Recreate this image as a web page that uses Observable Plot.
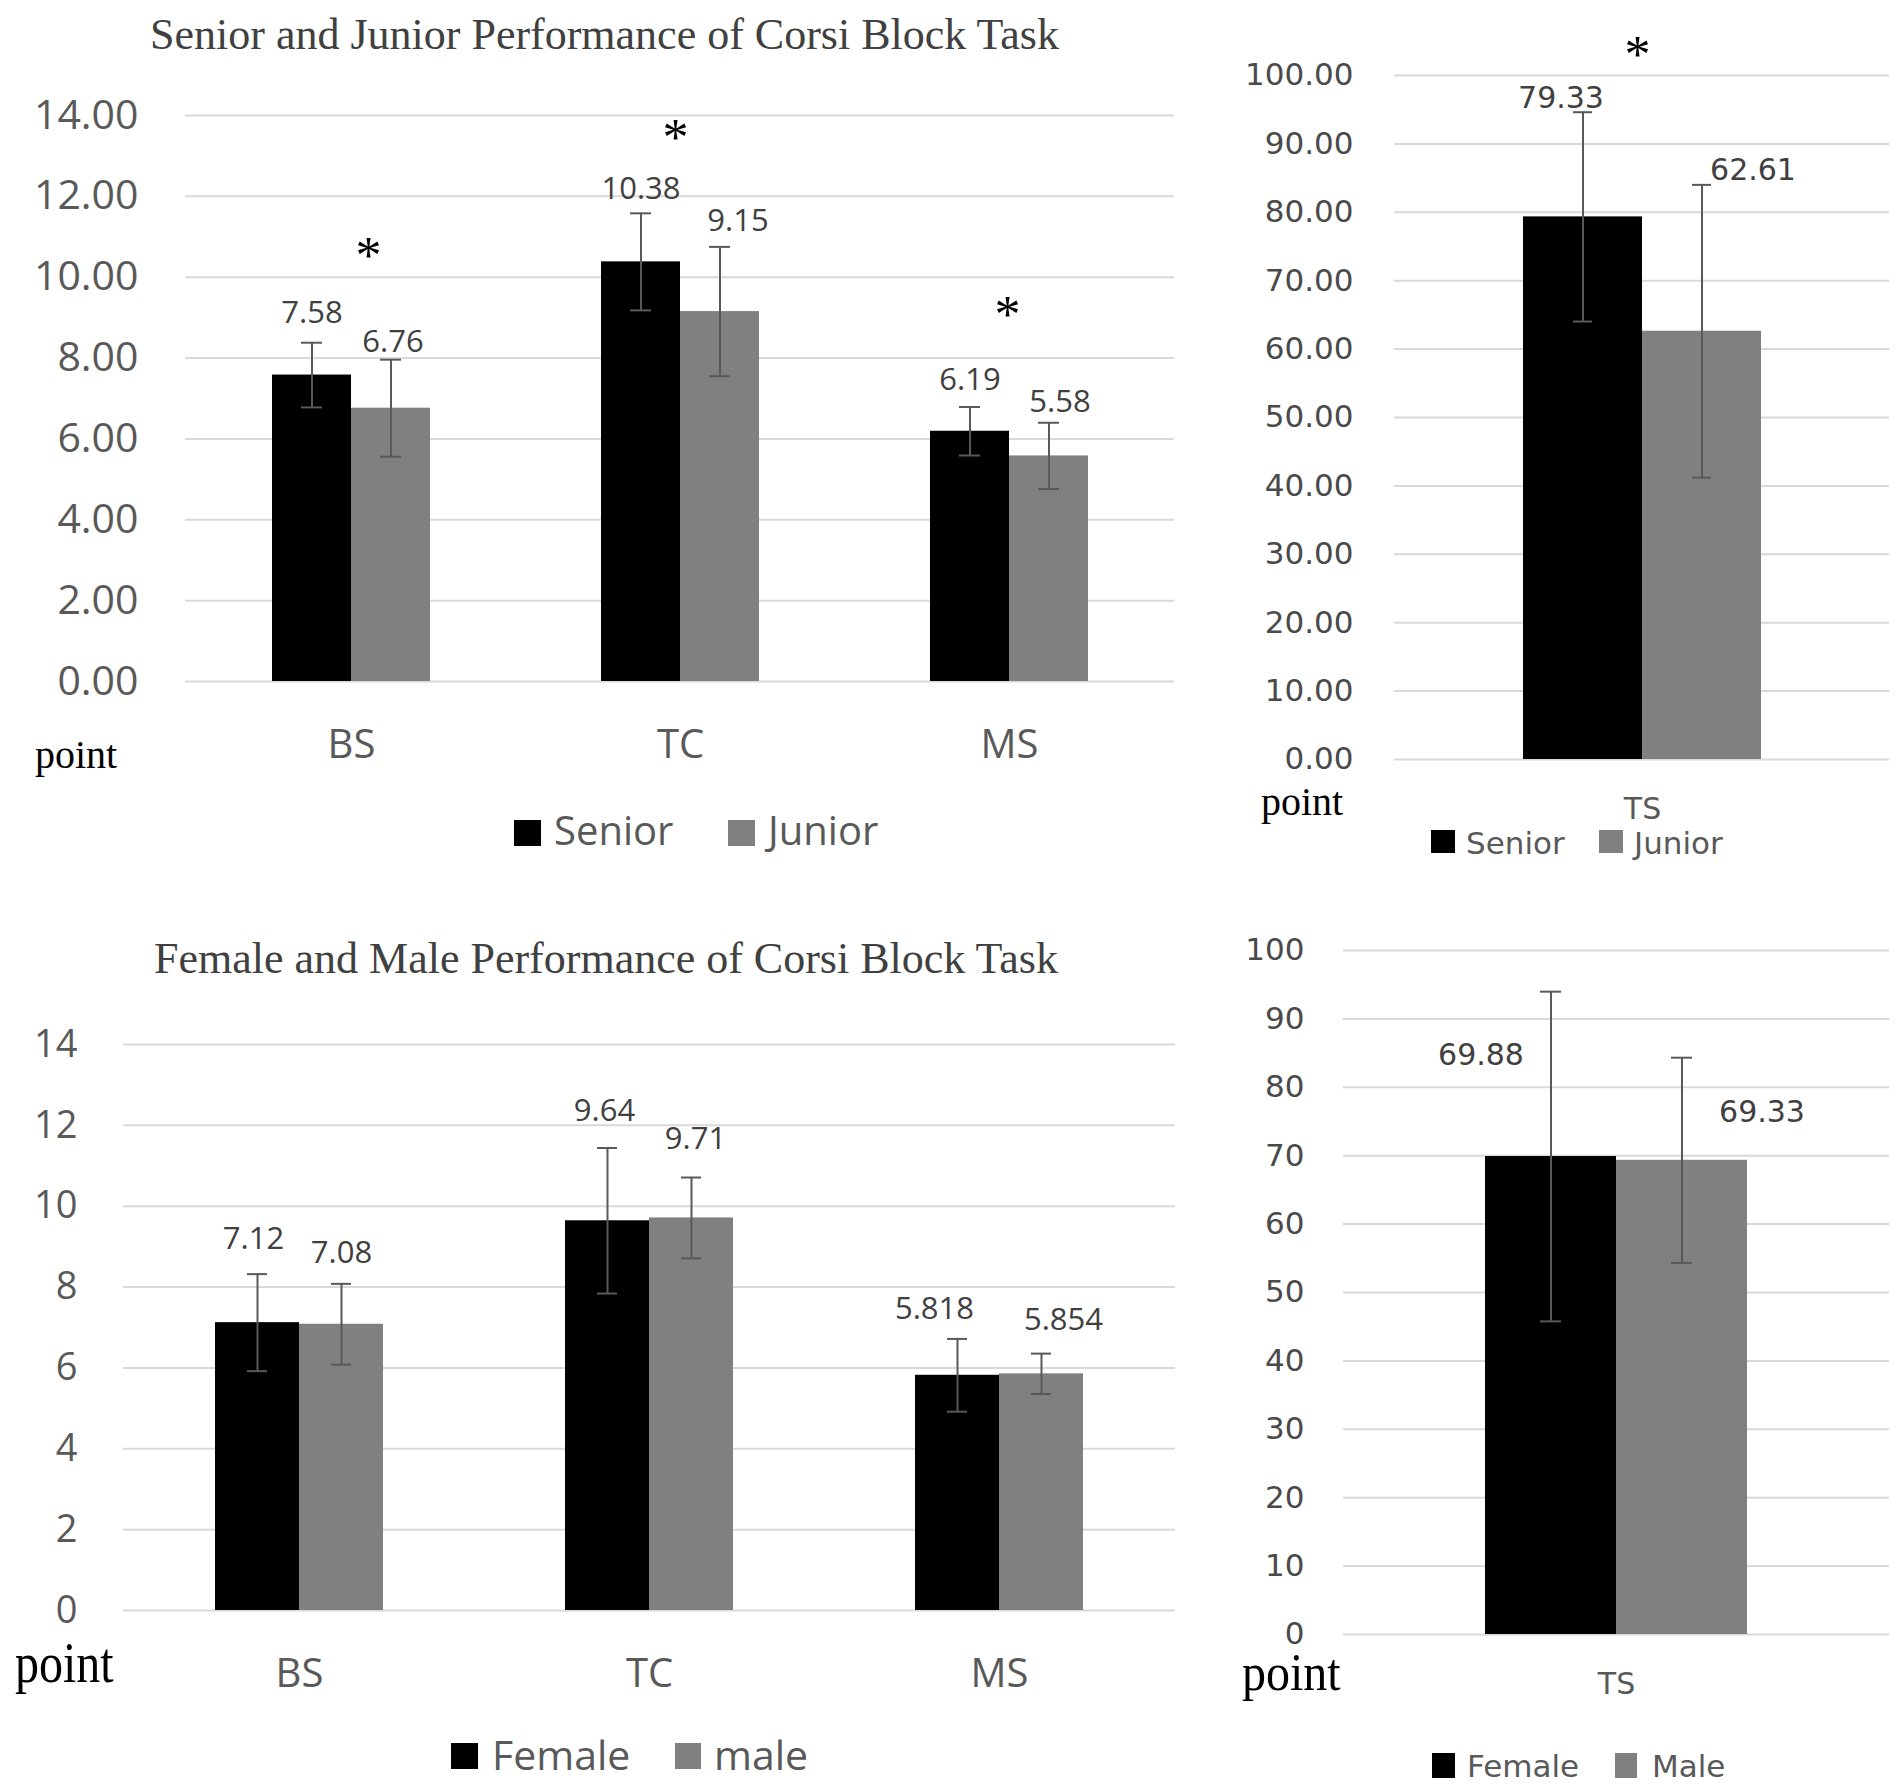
<!DOCTYPE html>
<html>
<head>
<meta charset="utf-8">
<script src="https://cdn.jsdelivr.net/npm/d3@7"></script>
<script src="https://cdn.jsdelivr.net/npm/@observablehq/plot@0.6"></script>
<style>
  html, body { margin: 0; padding: 0; background: #ffffff; }
  #page { position: relative; width: 1902px; height: 1792px; overflow: hidden; background: #ffffff; }
  .abs { position: absolute; white-space: nowrap; line-height: 1; margin: 0; }
  .panel { position: absolute; }
  .panel svg { overflow: visible; position: absolute; left: 0; top: 0; }
</style>
</head>
<body>
<div id="page"></div>
<script>
// ---------------- DATA ----------------
const subtasks = ["BS", "TC", "MS"];
const totalTask = ["TS"];

const ageSeries = ["Senior", "Junior"];
const sexSeriesLeft = ["Female", "male"];
const sexSeriesRight = ["Female", "Male"];

// Senior / Junior, sub-scores (BS, TC, MS)
const seniorMeans = [7.58, 10.38, 6.19];
const seniorSD    = [0.8, 1.2, 0.6];
const juniorMeans = [6.76, 9.15, 5.58];
const juniorSD    = [1.2, 1.6, 0.82];

// Senior / Junior, total score (TS)
const seniorTS   = [79.33];
const seniorTSsd = [15.3];
const juniorTS   = [62.61];
const juniorTSsd = [21.4];

// Female / Male, sub-scores (BS, TC, MS)
const femaleMeans = [7.12, 9.64, 5.818];
const femaleSD    = [1.2, 1.8, 0.9];
const maleMeans   = [7.08, 9.71, 5.854];
const maleSD      = [1.0, 1.0, 0.5];

// Female / Male, total score (TS)
const femaleTS   = [69.88];
const femaleTSsd = [24.1];
const maleTS     = [69.33];
const maleTSsd   = [15.0];

// significance markers (*)
const ageSignificant = ["BS", "TC", "MS"];
const ageTSSignificant = ["TS"];
const sexSignificant = [];

// y ticks
const ticksSub = [0, 2, 4, 6, 8, 10, 12, 14];
const ticksTotal = [0, 10, 20, 30, 40, 50, 60, 70, 80, 90, 100];

// ---------------- STYLES ----------------
const barColors = ["#000000", "#808080"];
const gridColor = "#d9d9d9";
const errColor = "#595959";
const axisText = "#595959";
const valueText = "#404040";

// label offsets [dx, dy] in pixels relative to top of error bar
const labelOffsets = {
  TL: {"BS|Senior": [0, -20], "BS|Junior": [2, -8], "TC|Senior": [0, -14], "TC|Junior": [18, -16], "MS|Senior": [0, -17], "MS|Junior": [11, -11]},
  TR: {"TS|Senior": [-22, -4], "TS|Junior": [51, -5]},
  BL: {"BS|Female": [-4, -25], "BS|male": [0, -21], "TC|Female": [-3, -27], "TC|male": [4, -29], "MS|Female": [-23, -20], "MS|male": [22, -24]},
  BR: {"TS|Female": [-70, 73], "TS|Male": [80, 64]}
};
const starOffsets = {
  TL: {BS: [17, -70], TC: [-5, -58], MS: [-2, -75]},
  TR: {TS: [-5, -40]},
  BL: {}, BR: {}
};

function buildRows(cats, series, meansList, sdList) {
  const rows = [];
  cats.forEach((c, i) => {
    series.forEach((s, j) => {
      const m = meansList[j][i], sd = sdList[j][i];
      rows.push({cat: c, series: s, mean: m, sd: sd, lo: m - sd, hi: m + sd, label: String(m)});
    });
  });
  return rows;
}

function makePanel(cfg) {
  const rows = buildRows(cfg.cats, cfg.series, cfg.means, cfg.sds);
  const sigRows = cfg.sig.map(c => ({cat: c, top: d3.max(rows.filter(r => r.cat === c), r => r.hi)}));
  const common = {
    width: cfg.width, height: cfg.height,
    marginLeft: cfg.mL, marginRight: cfg.mR, marginTop: cfg.mT, marginBottom: cfg.mB,
    style: {background: "transparent", fontFamily: cfg.font, overflow: "visible"}
  };
  // background: gridlines + y tick labels (not faceted, spans the whole plot width)
  const back = Plot.plot({
    ...common,
    y: {domain: cfg.domain, axis: null},
    marks: [
      Plot.ruleY(cfg.ticks, {y: d => d, stroke: gridColor, strokeWidth: 2}),
      Plot.text(cfg.ticks, {y: d => d, text: cfg.tickFormat, frameAnchor: "left", textAnchor: "end",
        dx: cfg.tickDx, fontSize: cfg.tickSize, fontFamily: cfg.font, fill: cfg.tickColor})
    ]
  });
  // foreground: grouped bars, error bars, labels (faceted by category)
  const marks = [
    Plot.barY(rows, {fx: "cat", x: "series", y: "mean", fill: "series"}),
    Plot.ruleX(rows, {fx: "cat", x: "series", y1: "lo", y2: "hi", stroke: errColor, strokeWidth: 2}),
    Plot.tickY(rows, {fx: "cat", x: "series", y: "hi", insetLeft: cfg.capInset, insetRight: cfg.capInset, stroke: errColor, strokeWidth: 2}),
    Plot.tickY(rows, {fx: "cat", x: "series", y: "lo", insetLeft: cfg.capInset, insetRight: cfg.capInset, stroke: errColor, strokeWidth: 2}),
    Plot.axisFx({anchor: "bottom", tickSize: 0, tickPadding: cfg.catPad, fontSize: cfg.catSize, fontFamily: cfg.font, fill: axisText, label: null})
  ];
  rows.forEach(r => {
    const off = cfg.labelOffsets[r.cat + "|" + r.series] || [0, -10];
    marks.push(Plot.text([r], {fx: "cat", x: "series", y: "hi", text: "label", dx: off[0], dy: off[1], lineAnchor: "bottom",
      fontSize: cfg.valueSize, fontFamily: cfg.font, fill: valueText}));
  });
  sigRows.forEach(r => {
    const off = cfg.starOffsets[r.cat] || [0, -60];
    marks.push(Plot.text([r], {fx: "cat", y: "top", text: () => "*", dx: off[0], dy: off[1], lineAnchor: "bottom",
      fontSize: 52, fontFamily: "Liberation Serif", fill: "#000000"}));
  });
  const front = Plot.plot({
    ...common,
    fx: {domain: cfg.cats, paddingInner: 0.52, paddingOuter: 0.26, label: null},
    x: {domain: cfg.series, padding: 0, axis: null},
    y: {domain: cfg.domain, axis: null},
    color: {domain: cfg.series, range: barColors},
    marks
  });
  const holder = document.createElement("div");
  holder.className = "panel";
  holder.style.left = cfg.left + "px";
  holder.style.top = cfg.top + "px";
  holder.style.width = cfg.width + "px";
  holder.style.height = cfg.height + "px";
  holder.appendChild(back);
  holder.appendChild(front);
  document.getElementById("page").appendChild(holder);
}

const fmt2 = d => d.toFixed(2);
const fmt0 = d => d.toFixed(0);

makePanel({
  left: 0, top: 0, width: 1190, height: 790, mL: 185, mR: 16, mT: 115, mB: 109,
  cats: subtasks, series: ageSeries, means: [seniorMeans, juniorMeans], sds: [seniorSD, juniorSD],
  sig: ageSignificant, domain: [0, 14], ticks: ticksSub, tickFormat: fmt2, tickColor: axisText,
  font: "Open Sans", tickSize: 41, tickDx: -47, catSize: 40, catPad: 48, valueSize: 31, capInset: 29,
  labelOffsets: labelOffsets.TL, starOffsets: starOffsets.TL
});
makePanel({
  left: 1200, top: 0, width: 702, height: 880, mL: 194, mR: 13, mT: 75, mB: 121,
  cats: totalTask, series: ageSeries, means: [seniorTS, juniorTS], sds: [seniorTSsd, juniorTSsd],
  sig: ageTSSignificant, domain: [0, 100], ticks: ticksTotal, tickFormat: fmt2, tickColor: "#4a4a4a",
  font: "DejaVu Sans", tickSize: 31, tickDx: -41, catSize: 30, catPad: 38, valueSize: 30, capInset: 50,
  labelOffsets: labelOffsets.TR, starOffsets: starOffsets.TR
});
makePanel({
  left: 0, top: 880, width: 1190, height: 912, mL: 123, mR: 15, mT: 164, mB: 182,
  cats: subtasks, series: sexSeriesLeft, means: [femaleMeans, maleMeans], sds: [femaleSD, maleSD],
  sig: sexSignificant, domain: [0, 14], ticks: ticksSub, tickFormat: fmt0, tickColor: axisText,
  font: "Open Sans", tickSize: 38, tickDx: -46, catSize: 40, catPad: 48, valueSize: 31, capInset: 32,
  labelOffsets: labelOffsets.BL, starOffsets: starOffsets.BL
});
makePanel({
  left: 1200, top: 880, width: 702, height: 912, mL: 143, mR: 13, mT: 70, mB: 158,
  cats: totalTask, series: sexSeriesRight, means: [femaleTS, maleTS], sds: [femaleTSsd, maleTSsd],
  sig: sexSignificant, domain: [0, 100], ticks: ticksTotal, tickFormat: fmt0, tickColor: "#4a4a4a",
  font: "DejaVu Sans", tickSize: 31, tickDx: -39, catSize: 30, catPad: 38, valueSize: 30, capInset: 55,
  labelOffsets: labelOffsets.BR, starOffsets: starOffsets.BR
});

// ---------------- HTML TEXT: titles, axis unit, legends ----------------
const fontMetrics = {"Liberation Serif": [0.891, 0.216], "Open Sans": [1.069, 0.293], "DejaVu Sans": [0.928, 0.236]};
function addText(txt, left, baseline, font, size, color, opts = {}) {
  const lh = opts.lineHeight || 1;
  const sy = opts.scaleY || 1;
  const [asc, desc] = fontMetrics[font];
  const k = (lh - (asc + desc)) / 2 + asc; // baseline offset from top of line box, in em
  const el = document.createElement("div");
  el.className = "abs";
  el.textContent = txt;
  el.style.left = left + "px";
  el.style.top = (baseline - k * size) + "px";
  el.style.fontFamily = `"${font}"`;
  el.style.fontSize = size + "px";
  el.style.lineHeight = String(lh);
  el.style.color = color;
  if (sy !== 1) {
    el.style.transform = `scale(1, ${sy})`;
    el.style.transformOrigin = `0 ${k}em`;
  }
  document.getElementById("page").appendChild(el);
}
function addSwatch(left, top, w, h, color) {
  const el = document.createElement("div");
  el.className = "abs";
  Object.assign(el.style, {left: left + "px", top: top + "px", width: w + "px", height: h + "px", background: color});
  document.getElementById("page").appendChild(el);
}

addText("Senior and Junior Performance of Corsi Block Task", 150, 50, "Liberation Serif", 44, "#404040");
addText("Female and Male Performance of Corsi Block Task", 154, 974, "Liberation Serif", 44, "#404040");

addText("point", 35, 768, "Liberation Serif", 40, "#000000");
addText("point", 1261, 815, "Liberation Serif", 40, "#000000", {lineHeight: 0.8});
addText("point", 15, 1683, "Liberation Serif", 48, "#000000", {lineHeight: 0.6, scaleY: 1.2});
addText("point", 1242, 1690, "Liberation Serif", 48, "#000000", {lineHeight: 0.5, scaleY: 1.08});

// legends
addSwatch(514, 820, 27, 26, barColors[0]);
addText(ageSeries[0], 554, 846, "Open Sans", 40, axisText);
addSwatch(728, 820, 27, 26, barColors[1]);
addText(ageSeries[1], 768, 846, "Open Sans", 40, axisText);

addSwatch(1431, 830, 24, 23, barColors[0]);
addText(ageSeries[0], 1466, 854, "DejaVu Sans", 31, axisText, {lineHeight: 0.75});
addSwatch(1599, 830, 24, 23, barColors[1]);
addText(ageSeries[1], 1634, 854, "DejaVu Sans", 31, axisText, {lineHeight: 0.75});

addSwatch(451, 1743, 27, 26, barColors[0]);
addText(sexSeriesLeft[0], 492, 1770, "Open Sans", 41, axisText);
addSwatch(675, 1743, 26, 26, barColors[1]);
addText(sexSeriesLeft[1], 714, 1770, "Open Sans", 41, axisText);

addSwatch(1432, 1753, 23, 25, barColors[0]);
addText(sexSeriesRight[0], 1467, 1777, "DejaVu Sans", 31, axisText);
addSwatch(1615, 1753, 22, 25, barColors[1]);
addText(sexSeriesRight[1], 1652, 1777, "DejaVu Sans", 31, axisText);
</script>
</body>
</html>
